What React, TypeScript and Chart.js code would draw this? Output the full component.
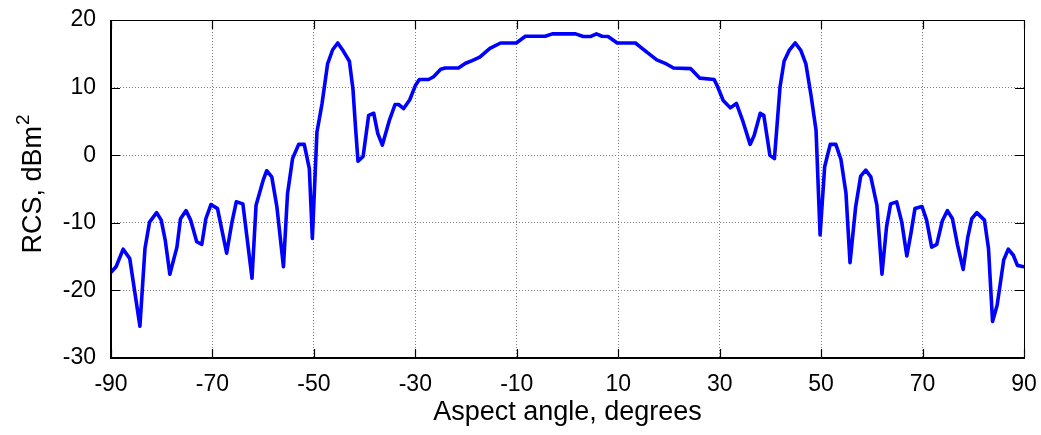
import { useEffect, useRef } from "react";
import { Chart, registerables } from "chart.js";

Chart.register(...registerables);

// Monostatic RCS pattern versus aspect angle
const angleDeg = [
  -90, -89, -87.6, -86.3, -84.3, -83.3, -82.4, -81, -80.1, -79.3, -78.4, -77, -76.3, -75.2, -74.3,
  -73.1, -72.1, -71.3, -70.3, -69, -67.2, -66.2, -65.3, -64, -62.2, -61.4, -60, -59.3, -58.3, -57.3,
  -56, -55.2, -54.2, -53, -51.9, -50.9, -50.3, -49.4, -48.4, -47.3, -46.3, -45.3, -44.2, -43, -42.3,
  -41.8, -41.3, -40.3, -39.2, -38.2, -37.4, -36.5, -35.1, -34, -33.3, -32.3, -31.1, -30, -29.2, -27.4,
  -26.4, -25, -24.1, -21.5, -20.1, -18.8, -17.3, -15.3, -13.2, -10.1, -8.3, -4.4, -3, 1.6, 3.1,
  4.5, 5.7, 6.8, 8, 9.8, 13.4, 14.4, 15.7, 17.6, 19.5, 20.9, 24.3, 26.1, 28.9, 29.5,
  30.7, 32.1, 33.3, 34.5, 36, 36.8, 38, 38.7, 39.9, 40.8, 41.9, 42.7, 43.7, 44.9, 46,
  47, 48, 49, 49.8, 50.7, 51.8, 52.9, 53.9, 54.9, 55.7, 56.8, 57.8, 58.8, 59.8, 61,
  62, 62.9, 63.7, 64.9, 65.9, 66.9, 67.7, 68.5, 69.9, 70.8, 71.8, 72.8, 73.9, 74.9, 75.9,
  76.9, 78, 78.9, 79.7, 80.7, 82.2, 83, 83.8, 84.7, 86, 86.9, 87.9, 88.7, 90,
];

const rcsDbsm = [
  -17.3, -16.5, -13.9, -15.3, -25.3, -13.8, -9.9, -8.5, -9.6, -12.6, -17.6, -13.6, -9.4, -8.2, -9.6,
  -12.8, -13.2, -9.4, -7.3, -7.9, -14.5, -10.1, -6.9, -7.2, -18.2, -7.4, -3.7, -2.3, -3.2, -7.6,
  -16.5, -5.7, -0.5, 1.6, 1.6, -2.0, -12.3, 3.4, 7.6, 13.5, 15.6, 16.6, 15.4, 13.9, 9.8,
  4.2, -0.9, -0.2, 5.9, 6.2, 3.2, 1.5, 5.2, 7.5, 7.5, 6.9, 8.2, 10.3, 11.2, 11.2,
  11.6, 12.7, 12.9, 12.9, 13.6, 14.0, 14.5, 15.8, 16.6, 16.6, 17.6, 17.6, 17.95, 17.95, 17.55,
  17.55, 17.95, 17.6, 17.55, 16.6, 16.6, 16.0, 15.2, 14.1, 13.5, 12.9, 12.8, 11.4, 11.2, 10.3,
  8.1, 7.0, 7.65, 5.2, 1.6, 2.9, 6.2, 5.9, 0.0, -0.5, 10.1, 13.9, 15.5, 16.6, 15.5,
  13.5, 8.9, 3.7, -11.8, -1.7, 1.6, 1.6, -0.6, -5.6, -15.9, -7.7, -3.1, -2.2, -3.2, -7.4,
  -17.6, -10.6, -7.2, -6.9, -9.9, -14.9, -11.6, -7.9, -7.6, -9.6, -13.6, -13.2, -9.7, -8.2, -9.4,
  -13.3, -16.9, -12.2, -9.4, -8.5, -9.6, -13.8, -24.6, -22.2, -15.5, -13.9, -14.8, -16.3, -16.5,
];

const xTickValues = [-90, -70, -50, -30, -10, 10, 30, 50, 70, 90];
const yTickValues = [-30, -20, -10, 0, 10, 20];
const xAxisTitle = "Aspect angle, degrees";
const yAxisTitleBase = "RCS, dBm";
const yAxisTitleSup = "2";

const FONT = "'Liberation Sans', Arial, Helvetica, sans-serif";
const WIDTH = 1041;
const HEIGHT = 435;

// Axes box with short inward tick marks on all four sides
const axesFrame = {
  id: "axesFrame",
  afterDraw(chart: any) {
    const { ctx, chartArea, scales } = chart;
    const { left, right, top, bottom } = chartArea;
    const len = 9;
    ctx.save();
    ctx.strokeStyle = "#000";
    ctx.lineWidth = 1.2;
    scales.x.ticks.forEach((t: any) => {
      const px = Math.round(scales.x.getPixelForValue(t.value)) + 0.5;
      ctx.beginPath();
      ctx.moveTo(px, bottom);
      ctx.lineTo(px, bottom - len);
      ctx.moveTo(px, top);
      ctx.lineTo(px, top + len);
      ctx.stroke();
    });
    scales.y.ticks.forEach((t: any) => {
      const py = Math.round(scales.y.getPixelForValue(t.value)) + 0.5;
      ctx.beginPath();
      ctx.moveTo(left, py);
      ctx.lineTo(left + len, py);
      ctx.moveTo(right, py);
      ctx.lineTo(right - len, py);
      ctx.stroke();
    });
    ctx.lineWidth = 1;
    ctx.strokeRect(Math.round(left) + 0.5, Math.round(top) + 0.5, Math.round(right - left), Math.round(bottom - top));
    ctx.lineWidth = 2;
    ctx.beginPath();
    ctx.moveTo(Math.round(left), Math.round(top));
    ctx.lineTo(Math.round(left), Math.round(bottom));
    ctx.lineTo(Math.round(right) + 1, Math.round(bottom));
    ctx.stroke();
    ctx.restore();
  },
};

// Rotated y-axis title with a raised superscript
const yTitle = {
  id: "yTitle",
  afterDraw(chart: any) {
    const { ctx } = chart;
    const baseFont = `27px ${FONT}`;
    const supFont = `19px ${FONT}`;
    ctx.save();
    ctx.font = baseFont;
    const wBase = ctx.measureText(yAxisTitleBase).width;
    ctx.font = supFont;
    const wSup = ctx.measureText(yAxisTitleSup).width;
    const total = wBase + wSup + 1;
    ctx.translate(41, 184);
    ctx.rotate(-Math.PI / 2);
    ctx.fillStyle = "#000";
    ctx.textBaseline = "alphabetic";
    ctx.textAlign = "left";
    ctx.font = baseFont;
    ctx.fillText(yAxisTitleBase, -total / 2, 0);
    ctx.font = supFont;
    ctx.fillText(yAxisTitleSup, -total / 2 + wBase + 1, -12);
    ctx.restore();
  },
};

const zeroScalePadding = (scale: any) => {
  scale.paddingTop = 0;
  scale.paddingBottom = 0;
  scale.paddingLeft = 0;
  scale.paddingRight = 0;
};

export default function App() {
  const canvasRef = useRef<HTMLCanvasElement | null>(null);

  useEffect(() => {
    document.body.style.margin = "0";
    const canvas = canvasRef.current;
    if (!canvas) return;

    const points = angleDeg.map((a, i) => ({ x: a, y: rcsDbsm[i] }));

    const chart = new Chart(canvas, {
      type: "line",
      data: {
        datasets: [
          {
            data: points,
            borderColor: "#0000ff",
            borderWidth: 3.6,
            pointRadius: 0,
            tension: 0,
            fill: false,
            borderJoinStyle: "round",
            borderCapStyle: "round",
          },
        ],
      },
      options: {
        responsive: false,
        animation: false,
        events: [],
        layout: { padding: { top: 20, right: 17, bottom: 0, left: 0 } },
        plugins: {
          legend: { display: false },
          tooltip: { enabled: false },
        },
        scales: {
          x: {
            type: "linear",
            min: -90,
            max: 90,
            afterBuildTicks: (scale: any) => {
              scale.ticks = xTickValues.map((v) => ({ value: v }));
            },
            afterFit: (scale: any) => {
              scale.height = 77;
              zeroScalePadding(scale);
            },
            grid: { color: "#808080", lineWidth: 1, drawTicks: false },
            border: { display: false, dash: [1, 2] },
            ticks: {
              padding: 13,
              maxRotation: 0,
              autoSkip: false,
              color: "#000",
              font: { family: FONT, size: 23 },
              callback: (v: any) => String(v),
            },
            title: {
              display: true,
              text: xAxisTitle,
              color: "#000",
              font: { family: FONT, size: 27, lineHeight: 1 },
              padding: { top: 0, bottom: 9 },
            },
          },
          y: {
            type: "linear",
            min: -30,
            max: 20,
            afterBuildTicks: (scale: any) => {
              scale.ticks = yTickValues.map((v) => ({ value: v }));
            },
            afterFit: (scale: any) => {
              scale.width = 111;
              zeroScalePadding(scale);
            },
            grid: { color: "#808080", lineWidth: 1, drawTicks: false },
            border: { display: false, dash: [1, 2] },
            ticks: {
              padding: 15,
              autoSkip: false,
              color: "#000",
              font: { family: FONT, size: 23 },
              callback: (v: any) => String(v),
            },
            title: { display: false },
          },
        },
      },
      plugins: [axesFrame, yTitle],
    });

    return () => chart.destroy();
  }, []);

  return (
    <div style={{ position: "absolute", left: 0, top: 0, width: WIDTH, height: HEIGHT, background: "#fff" }}>
      <canvas ref={canvasRef} width={WIDTH} height={HEIGHT} style={{ display: "block" }} />
    </div>
  );
}
